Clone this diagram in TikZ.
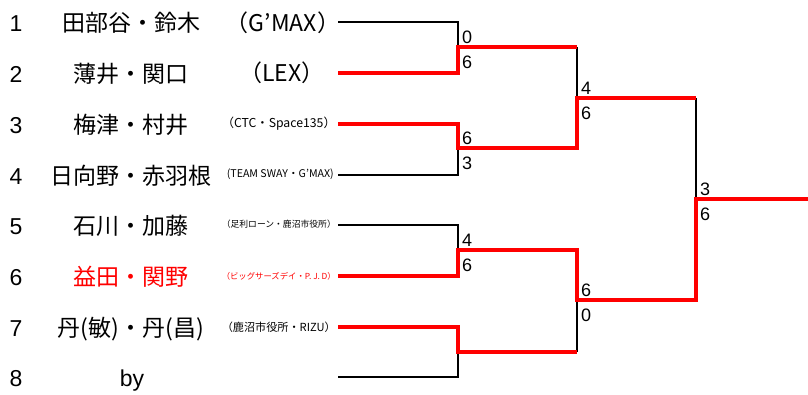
\documentclass[tikz,border=0pt]{standalone}
\usepackage{fontspec}
\setmainfont{Liberation Sans}
\newfontfamily\jp{Noto Sans CJK JP}
\usepackage{graphicx}
\begin{document}
\begin{tikzpicture}[x=1pt,y=-1pt,
  num/.style={font=\fontsize{23}{23}\selectfont, anchor=base, inner sep=0pt},
  pname/.style={font=\jp\fontsize{23}{23}\selectfont, anchor=base, inner sep=0pt},
  teambig/.style={font=\jp\fontsize{23}{23}\selectfont, anchor=base, inner sep=0pt},
  team/.style={font=\jp\fontsize{10}{10}\selectfont, anchor=east, inner sep=0pt},
  score/.style={font=\fontsize{18}{18}\selectfont, anchor=base west, inner sep=0pt},
  loser/.style={line width=2pt, black},
  winner/.style={line width=4pt, red}]
\useasboundingbox (0,0) rectangle (808,394);
% player line starts
\coordinate (p1) at (338,22);
\coordinate (p2) at (338,72.5);
\coordinate (p3) at (338,124);
\coordinate (p4) at (338,174.5);
\coordinate (p5) at (338,224.5);
\coordinate (p6) at (338,276);
\coordinate (p7) at (338,327);
\coordinate (p8) at (338,377);
% junctions
\coordinate (m1) at (458,47);
\coordinate (m2) at (458,148);
\coordinate (m3) at (458,250);
\coordinate (m4) at (458,352);
\coordinate (m5) at (577,98);
\coordinate (m6) at (577,300);
\coordinate (m7) at (696,199);
\coordinate (fin) at (808,199);
% seed numbers
\node[num] (k1) at (16,31.5) {1};
\node[num] (k2) at (16,82) {2};
\node[num] (k3) at (16,133.5) {3};
\node[num] (k4) at (16,184) {4};
\node[num] (k5) at (16,234) {5};
\node[num] (k6) at (16,285.5) {6};
\node[num] (k7) at (16,336.5) {7};
\node[num] (k8) at (16,386.5) {8};
% names
\node[pname] (n1) at (131,31.5) {田部谷・鈴木};
\node[pname] (n2) at (131,82) {薄井・関口};
\node[pname] (n3) at (131,133.5) {梅津・村井};
\node[pname] (n4) at (131,184) {日向野・赤羽根};
\node[pname] (n5) at (131,234) {石川・加藤};
\node[pname, red] (n6) at (131,285.5) {益田・関野};
\node[pname] (n7) at (131,336.5) {丹(敏)・丹(昌)};
\node[num] (n8) at (132,386.5) {by};
% teams
\node[teambig] (t1) at (283,31) {（G’MAX）};
\node[teambig] (t2) at (282,81.5) {（LEX）};
\node[team] (t3) at (336,124) {\resizebox{114pt}{!}{（CTC・Space135）}};
\node[team] (t4) at (334,174.5) {\resizebox{107pt}{!}{(TEAM SWAY・G’MAX)}};
\node[team] (t5) at (336,224.5) {\resizebox{114pt}{!}{（足利ローン・鹿沼市役所）}};
\node[team, red] (t6) at (336,276) {\resizebox{114pt}{!}{（ビッグサーズデイ・P. J. D）}};
\node[team] (t7) at (336,327) {\resizebox{114pt}{!}{（鹿沼市役所・RIZU）}};
% losing lines
\draw[loser] (p1) -| (m1);
\draw[loser] (p4) -| (m2);
\draw[loser] (p5) -| (m3);
\draw[loser] (p8) -| (m4);
\draw[loser] (m1 -| m5) -- (m5);
\draw[loser] (m4 -| m6) -- (m6);
\draw[loser] (m5 -| m7) -- (m7);
% winning lines
\draw[winner] (p2) -| (m1) -- (m1 -| m5);
\draw[winner] (p3) -| (m2) -| (m5) -- (m5 -| m7);
\draw[winner] (p7) -| (m4) -- (m4 -| m6);
\draw[winner] (p6) -| (m3) -| (m6) -| (m7) -- (fin);
% scores
\node[score] (s1a) at ([shift={(4,-3.5)}]m1) {0};
\node[score] (s1b) at ([shift={(4,21)}]m1) {6};
\node[score] (s2a) at ([shift={(4,-3.5)}]m2) {6};
\node[score] (s2b) at ([shift={(4,21)}]m2) {3};
\node[score] (s3a) at ([shift={(4,-3.5)}]m3) {4};
\node[score] (s3b) at ([shift={(4,21)}]m3) {6};
\node[score] (s5a) at ([shift={(4,-3.5)}]m5) {4};
\node[score] (s5b) at ([shift={(4,21)}]m5) {6};
\node[score] (s6a) at ([shift={(4,-3.5)}]m6) {6};
\node[score] (s6b) at ([shift={(4,21)}]m6) {0};
\node[score] (s7a) at ([shift={(4,-3.5)}]m7) {3};
\node[score] (s7b) at ([shift={(4,21)}]m7) {6};
\end{tikzpicture}
\end{document}
